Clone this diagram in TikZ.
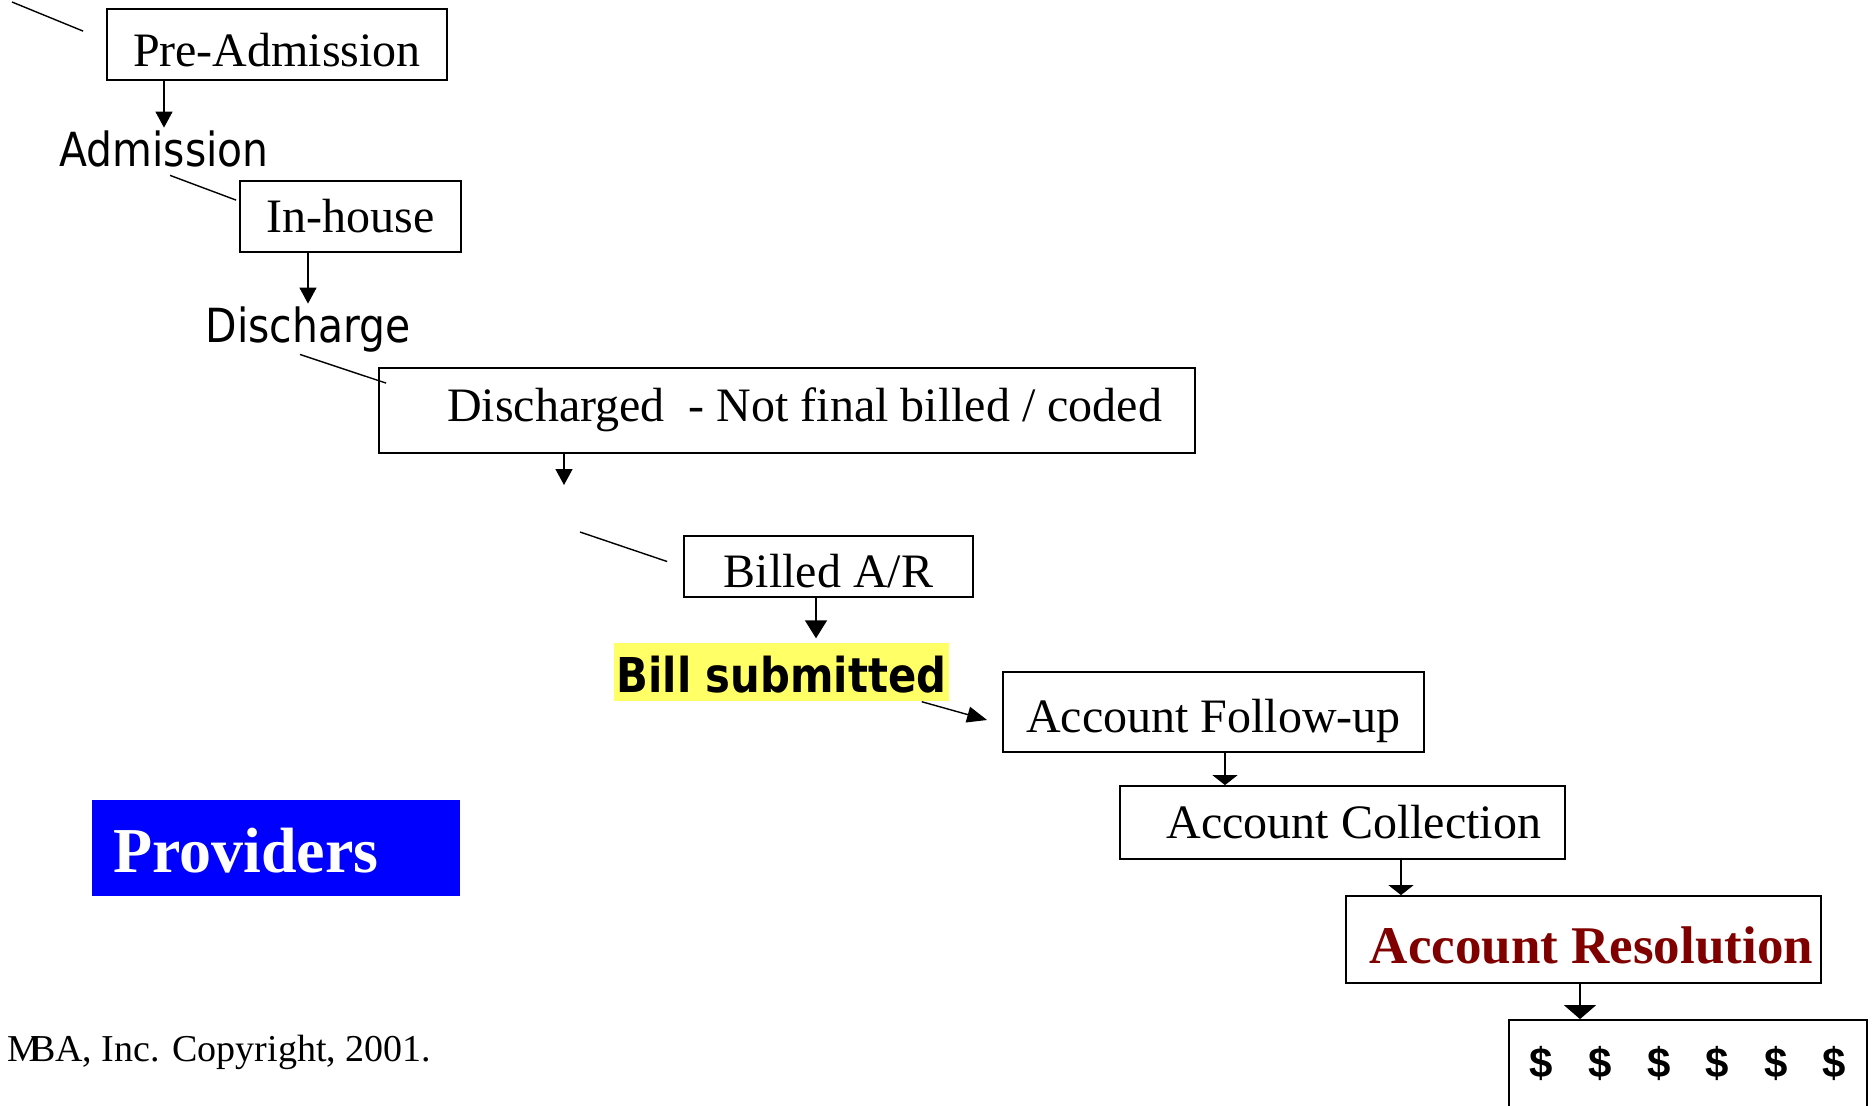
\documentclass[tikz,border=0pt]{standalone}
\usepackage{fontspec}
\setmainfont{Liberation Serif}
\newfontfamily\tahomaish[FakeStretch=0.87]{DejaVu Sans}
\newfontfamily\arialish{Liberation Sans}
\usetikzlibrary{arrows.meta}
\definecolor{provblue}{RGB}{0,0,255}
\definecolor{resred}{RGB}{128,0,0}
\definecolor{hilite}{RGB}{255,255,102}
\begin{document}
\begin{tikzpicture}[x = 0.5pt, y = -0.5pt, line width = 0.7pt,
  box/.style = {draw, line width = 0.9pt, inner sep = 0pt, text depth = 0pt, font = \fontsize{24}{28}\selectfont},
  lab/.style = {inner sep = 1pt, font = \tahomaish\fontsize{23.5}{28}\selectfont},
  arr/.style = {-{Triangle[length = 8pt, width = 8.5pt]}}]
\useasboundingbox (0,0) rectangle (1875,1105);

% stages
\node[box, minimum width = 170pt, minimum height = 35.5pt, text height = 21.5pt] (pre) at (277,44.5) {Pre-Admission};
\node[lab, anchor = base] (adm) at (164,166) {Admission};
\node[box, minimum width = 110.5pt, minimum height = 35.5pt, text height = 15.5pt] (inhouse) at (350.5,216.5) {In-house};
\node[lab, anchor = base] (dsch) at (308,342) {Discharge};
\node[box, minimum height = 42.5pt, text width = 375pt, inner xsep = 16.5pt, align = flush right, text height = 10.5pt] (notbilled) at (787,410.5) {Discharged\enskip- Not final billed / coded};
\node[box, minimum width = 144.5pt, minimum height = 30.5pt, text height = 20.5pt] (billed) at (828.5,566.5) {Billed A/R};
\node[fill = hilite, inner sep = 0pt, minimum width = 167.5pt, minimum height = 29pt, text height = 20pt, text depth = 0pt, font = \tahomaish\bfseries\fontsize{24}{28}\selectfont] (sub) at (781.5,672) {Bill submitted};
\node[box, minimum width = 210.5pt, minimum height = 40pt, text height = 20pt] (follow) at (1213.5,712) {Account Follow-up};
\node[box, minimum height = 36.5pt, text width = 198.5pt, inner xsep = 12pt, align = flush right, text height = 15.5pt] (collect) at (1342.5,822.5) {Account Collection};
\node[box, minimum height = 43.5pt, text width = 229.5pt, inner xsep = 4pt, align = flush right, text height = 23.5pt, text = resred, font = \bfseries\fontsize{26.5}{30}\selectfont] (resol) at (1583.5,939.5) {Account Resolution};
\node[box, minimum width = 179pt, minimum height = 50pt, text height = 7pt, font = \arialish\bfseries\fontsize{21}{24}\selectfont] (dollar) at (1688,1070) {\$\hspace{17.6pt}\$\hspace{17.6pt}\$\hspace{17.6pt}\$\hspace{17.6pt}\$\hspace{17.6pt}\$};

\node[fill = provblue, text = white, inner sep = 0pt, inner xsep = 10.5pt, text width = 163pt, align = flush left, minimum height = 48pt, text height = 24pt, text depth = 0pt, font = \bfseries\fontsize{32}{36}\selectfont] (prov) at (276,848) {Providers};
\node[anchor = base west, inner sep = 0pt, font = \fontsize{19}{23}\selectfont] (copy) at (7,1061) {M\kern-0.3em BA, Inc. Copyright, 2001.};

% connectors
\coordinate (corner) at (12,2);
\coordinate (cut) at (564,485);
\coordinate (resume) at (580,532);
\draw (corner) -- ([xshift = -11.5pt, yshift = -11.5pt]pre.north west);
\draw[arr] (pre.south -| adm.north) -- (adm.north);
\draw ([xshift = 3pt, yshift = -3pt]adm.south) -- ([xshift = -1.5pt, yshift = -10pt]inhouse.north west);
\draw[arr] (inhouse.south -| dsch.north) -- (dsch.north);
\draw ([xshift = -4pt]dsch.south) -- ([xshift = 4pt, yshift = -8pt]notbilled.north west);
\draw[arr] (notbilled.south -| cut) -- (cut);
\draw (resume) -- ([xshift = -8pt, yshift = 2.5pt]billed.west);
\draw[-{Triangle[length = 9pt, width = 11pt]}, shorten >= 2pt] ([xshift = -6.25pt]billed.south) coordinate (bs) -- (bs |- sub.north);
\draw[-{Triangle[length = 10pt, width = 8pt]}] ([xshift = -14pt]sub.south east) -- ([xshift = -7.5pt, yshift = -4pt]follow.west);
\foreach \from/\to/\dx in {follow/collect/5.75pt, collect/resol/29.25pt}
{
	\draw[-{Triangle[length = 5pt, width = 12.5pt]}] ([xshift = \dx]\from.south) coordinate (s) -- (s |- \to.north);
}
\draw[-{Triangle[length = 7pt, width = 16pt]}] ([xshift = -1.75pt]resol.south) coordinate (rs) -- (rs |- dollar.north);
\end{tikzpicture}
\end{document}
